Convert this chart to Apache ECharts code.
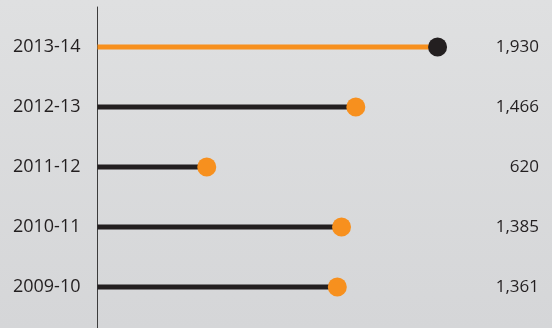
<!DOCTYPE html>
<html><head><meta charset="utf-8">
<script src="https://cdn.jsdelivr.net/npm/echarts@6/dist/echarts.min.js"></script>
<style>html,body{margin:0;padding:0;}#c{width:552px;height:328px;}</style>
</head><body><div id="c"></div>
<script>
const categories = ['2009-10', '2010-11', '2011-12', '2012-13', '2013-14'];
const values = [1361, 1385, 620, 1466, 1930];
const highlightCategory = '2013-14';

const ORANGE = '#f7901e', DARK = '#231f20', TEXT = '#231f20';
const fmt = v => v.toLocaleString('en-US');
const isHi = i => categories[i] === highlightCategory;

const chart = echarts.init(document.getElementById('c'));
chart.setOption({
  backgroundColor: new echarts.graphic.LinearGradient(0, 0, 0, 1, [
    {offset: 0, color: '#dfe0e1'}, {offset: 1, color: '#d5d6d8'}
  ]),
  animation: false,
  grid: [
    {left: 97.5, right: 14, top: 17, height: 300},
    {left: 97.5, right: 14, top: 7, bottom: 0}
  ],
  xAxis: [
    {gridIndex: 0, type: 'value', min: 0, max: 2500, show: false},
    {gridIndex: 1, type: 'value', min: 0, max: 1, show: false}
  ],
  yAxis: [
    {gridIndex: 0, type: 'category', data: categories,
     axisLine: {show: false}, axisTick: {show: false},
     axisLabel: {color: TEXT, fontSize: 18, fontFamily: 'Open Sans', margin: 17}},
    {gridIndex: 0, type: 'category', position: 'right', data: values.map(fmt),
     axisLine: {show: false}, axisTick: {show: false},
     axisLabel: {color: TEXT, fontSize: 17, fontFamily: 'Open Sans', align: 'right', margin: 1, padding: [0, 0, 3, 0]}},
    {gridIndex: 1, type: 'value', min: 0, max: 1,
     axisLine: {show: true, lineStyle: {color: '#3c3c3c', width: 1}},
     axisTick: {show: false}, axisLabel: {show: false}, splitLine: {show: false}}
  ],
  series: [
    {type: 'bar', xAxisIndex: 0, yAxisIndex: 0, barWidth: 5,
     data: values.map((v, i) => ({value: v, itemStyle: {color: isHi(i) ? ORANGE : DARK}}))},
    {type: 'scatter', xAxisIndex: 0, yAxisIndex: 0, symbolSize: 19,
     data: values.map((v, i) => ({value: [v, categories[i]], itemStyle: {color: isHi(i) ? DARK : ORANGE, opacity: 1}}))}
  ]
});
</script></body></html>
